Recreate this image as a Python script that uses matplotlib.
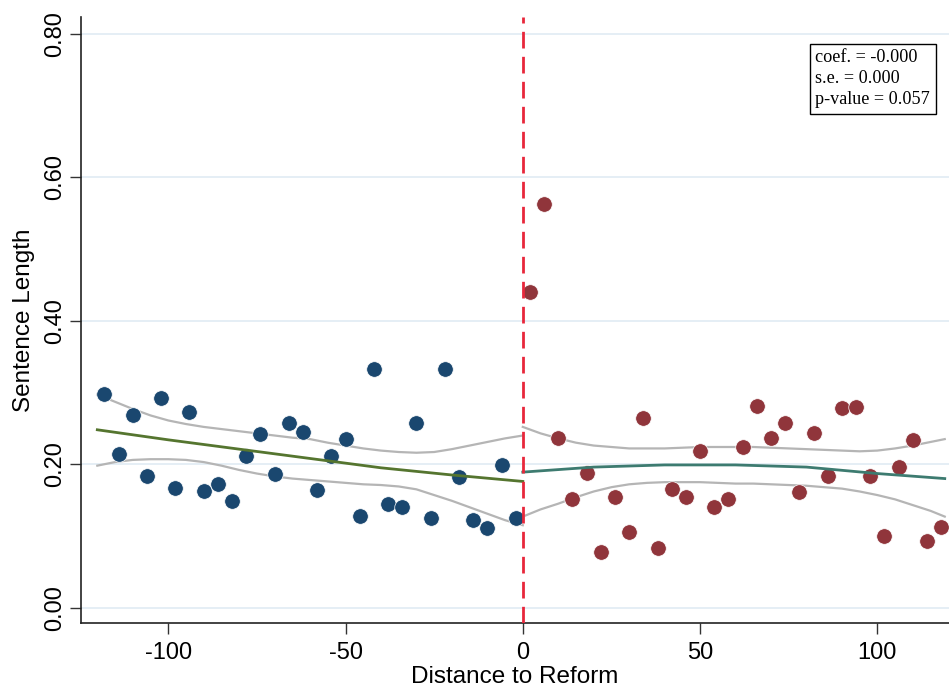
import matplotlib
matplotlib.use("Agg")
import matplotlib.pyplot as plt

# ---- data ----
x_before = [-118, -114, -110, -106, -102, -98, -94, -90, -86, -82, -78, -74, -70, -66, -62,
            -58, -54, -50, -46, -42, -38, -34, -30, -26, -22, -18, -14, -10, -6, -2]
y_before = [0.298, 0.214, 0.269, 0.183, 0.292, 0.167, 0.273, 0.163, 0.173, 0.149, 0.211, 0.242,
            0.187, 0.257, 0.245, 0.164, 0.212, 0.235, 0.128, 0.333, 0.145, 0.140, 0.258, 0.125,
            0.333, 0.182, 0.122, 0.111, 0.199, 0.125]

x_after = [2, 6, 10, 14, 18, 22, 26, 30, 34, 38, 42, 46, 50, 54, 58,
           62, 66, 70, 74, 78, 82, 86, 90, 94, 98, 102, 106, 110, 114, 118]
y_after = [0.440, 0.562, 0.236, 0.151, 0.188, 0.077, 0.154, 0.106, 0.265, 0.083, 0.166, 0.155,
           0.218, 0.140, 0.152, 0.224, 0.281, 0.236, 0.257, 0.161, 0.243, 0.184, 0.279, 0.280,
           0.183, 0.100, 0.196, 0.234, 0.093, 0.112]

# fitted lines
fit_x_before = [-120, -100, -80, -60, -40, -20, 0]
fit_before = [0.248, 0.234, 0.221, 0.208, 0.195, 0.185, 0.176]
fit_x_after = [0, 20, 40, 60, 80, 100, 119]
fit_after = [0.189, 0.196, 0.199, 0.199, 0.196, 0.187, 0.180]

# confidence bands
ci_x_before = [-120, -115, -110, -105, -100, -95, -90, -85, -80, -75, -70, -65, -60,
               -55, -50, -45, -40, -35, -30, -25, -20, -15, -10, -5, 0]
ci_hi_before = [0.297, 0.287, 0.277, 0.268, 0.261, 0.256, 0.252, 0.249, 0.246, 0.243, 0.240,
                0.237, 0.235, 0.230, 0.226, 0.222, 0.219, 0.217, 0.216, 0.217, 0.221, 0.226,
                0.231, 0.236, 0.240]
ci_lo_before = [0.198, 0.203, 0.206, 0.207, 0.207, 0.206, 0.203, 0.198, 0.192, 0.187, 0.183,
                0.180, 0.178, 0.176, 0.174, 0.172, 0.171, 0.169, 0.165, 0.157, 0.149, 0.140,
                0.131, 0.122, 0.115]
ci_x_after = [0, 5, 10, 15, 20, 25, 30, 35, 40, 45, 50, 55, 60, 65, 70, 75, 80, 85, 90,
              95, 100, 105, 110, 115, 119]
ci_hi_after = [0.252, 0.243, 0.236, 0.230, 0.226, 0.224, 0.222, 0.222, 0.222, 0.223, 0.224,
               0.224, 0.224, 0.224, 0.223, 0.222, 0.221, 0.220, 0.219, 0.218, 0.219, 0.222,
               0.226, 0.231, 0.235]
ci_lo_after = [0.127, 0.137, 0.145, 0.154, 0.162, 0.168, 0.172, 0.174, 0.175, 0.175, 0.175,
               0.174, 0.173, 0.173, 0.172, 0.171, 0.170, 0.168, 0.166, 0.162, 0.157, 0.151,
               0.143, 0.135, 0.127]

x_ticks = [-100, -50, 0, 50, 100]
y_ticks = [0.0, 0.2, 0.4, 0.6, 0.8]
stats_text = "coef. = -0.000\ns.e. = 0.000\np-value = 0.057"

# ---- figure ----
plt.rcParams['font.family'] = ['Liberation Sans', 'DejaVu Sans']
fig = plt.figure(figsize=(9.49, 6.93), dpi=100)
ax = fig.add_axes([81/949, 1-623/693, (949-81)/949, (623-17)/693])

ax.set_xlim(-124.6, 120.2)
ax.set_ylim(-0.0213, 0.8233)

for yt in y_ticks:
    ax.axhline(yt, color='#e3edf4', lw=1.3, zorder=0)

navy = '#1a476f'
maroon = '#90353b'
gray = '#b5b5b5'

for xs, ys in [(ci_x_before, ci_hi_before), (ci_x_before, ci_lo_before),
               (ci_x_after, ci_hi_after), (ci_x_after, ci_lo_after)]:
    ax.plot(xs, ys, color=gray, lw=1.6, zorder=2, solid_joinstyle='round')

ax.scatter(x_before, y_before, s=125, color=navy, edgecolor='white', linewidth=0.5, zorder=3)
ax.scatter(x_after, y_after, s=125, color=maroon, edgecolor='white', linewidth=0.5, zorder=3)

ax.plot(fit_x_before, fit_before, color='#55752f', lw=2, zorder=4)
ax.plot(fit_x_after, fit_after, color='#3d7b70', lw=2, zorder=4)

ax.axvline(0, color='#e8273b', lw=2, dashes=(6, 3), zorder=5)

ax.spines['top'].set_visible(False)
ax.spines['right'].set_visible(False)
for sp in ['left', 'bottom']:
    ax.spines[sp].set_color('#222222')
    ax.spines[sp].set_linewidth(1.2)

ax.set_xticks(x_ticks)
ax.set_xticklabels([str(v) for v in x_ticks])
ax.set_yticks(y_ticks)
ax.set_yticklabels([f"{v:.2f}" for v in y_ticks], rotation=90, va='center')
ax.tick_params(axis='x', length=8, width=1, color='#333333', labelsize=17, pad=6)
ax.tick_params(axis='y', length=8, width=1, color='#333333', labelsize=17, pad=3)

ax.set_xlabel("Distance to Reform", fontsize=17.5, labelpad=1)
ax.set_ylabel("Sentence Length", fontsize=17.5, labelpad=6)

ax.text(0.846, 0.947, stats_text, transform=ax.transAxes, ha='left', va='top',
        fontsize=13.1, family=['Liberation Serif', 'DejaVu Serif'], linespacing=1.32,
        bbox=dict(boxstyle='square,pad=0.3', facecolor='white', edgecolor='black', linewidth=1),
        zorder=6)

fig.savefig("out.png", dpi=100)
